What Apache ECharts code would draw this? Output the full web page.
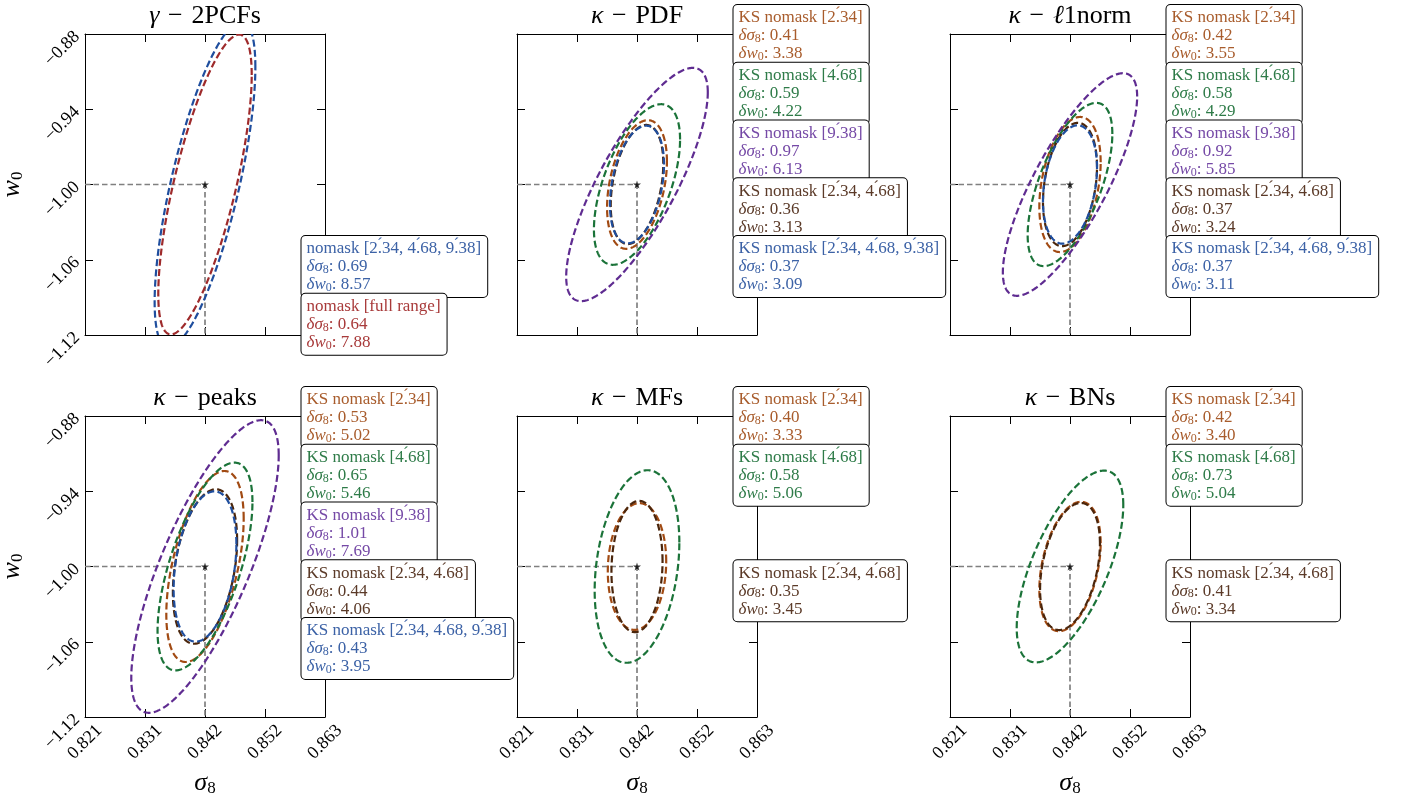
<!doctype html>
<html lang="en">
<head>
<meta charset="utf-8"/>
<title>sigma8 - w0 forecasts</title>
<style>
  html, body { margin: 0; padding: 0; background: #fff; }
  #chart { width: 1402px; height: 800px; }
</style>
</head>
<body>
<div id="chart"></div>
<script src="https://cdn.jsdelivr.net/npm/echarts@6/dist/echarts.min.js"></script>
<script>
// fiducial cosmology and axis ticks
const FID_S8 = 0.842;
const FID_W0 = -1.0;
const xTicks = [0.821, 0.8315, 0.842, 0.8525, 0.863];
const xTickLabels = ['0.821', '0.831', '0.842', '0.852', '0.863'];
const yTicks = [-1.12, -1.06, -1.0, -0.94, -0.88];
const yTickLabels = ['\u22121.12', '\u22121.06', '\u22121.00', '\u22120.94', '\u22120.88'];

// 68% contour of a 2-parameter gaussian: sqrt(delta chi2 = 2.30)
const K68 = 1.517;

const P = '.\u0301'; // arcmin mark sitting over the decimal point
const ksLabels = [
  'KS nomask [2' + P + '34]',
  'KS nomask [4' + P + '68]',
  'KS nomask [9' + P + '38]',
  'KS nomask [2' + P + '34, 4' + P + '68]',
  'KS nomask [2' + P + '34, 4' + P + '68, 9' + P + '38]',
];
const ksLineColors = ['#a14a13', '#1b7339', '#5f2c91', '#4b260c', '#1f4e9e'];
const ksTextColors = ['#a85c2c', '#2e7b48', '#7549a6', '#5b3a28', '#3c62a6'];
const ksSlots = [0, 1, 2, 3, 4];

// gamma - 2PCFs
const pcfLabels = ['nomask [2' + P + '34, 4' + P + '68, 9' + P + '38]', 'nomask [full range]'];
const pcfLineColors = ['#1f4e9e', '#9e2a2b'];
const pcfTextColors = ['#3c62a6', '#a83a3a'];
const pcfSlots = [4, 5];
const pcfDS8 = [0.69, 0.64];   // per cent
const pcfDW0 = [8.57, 7.88];
const pcfRho = [0.72, 0.73];

// kappa panels, order of ksLabels (null = not shown)
const pdfDS8 = [0.41, 0.59, 0.97, 0.36, 0.37];
const pdfDW0 = [3.38, 4.22, 6.13, 3.13, 3.09];
const pdfRho = [0.36, 0.56, 0.79, 0.35, 0.34];

const l1DS8 = [0.42, 0.58, 0.92, 0.37, 0.37];
const l1DW0 = [3.55, 4.29, 5.85, 3.24, 3.11];
const l1Rho = [0.33, 0.62, 0.79, 0.29, 0.28];

const peaksDS8 = [0.53, 0.65, 1.01, 0.44, 0.43];
const peaksDW0 = [5.02, 5.46, 7.69, 4.06, 3.95];
const peaksRho = [0.50, 0.62, 0.76, 0.34, 0.30];

const mfsDS8 = [0.40, 0.58, null, 0.35, null];
const mfsDW0 = [3.33, 5.06, null, 3.45, null];
const mfsRho = [0.08, 0.25, null, 0.08, null];

const bnsDS8 = [0.42, 0.73, null, 0.41, null];
const bnsDW0 = [3.40, 5.04, null, 3.34, null];
const bnsRho = [0.36, 0.64, null, 0.36, null];

const SP = ' \u200a';
const panels = [
  { title: '{i|\u03b3}' + SP + '\u2212' + SP + '2PCFs', labels: pcfLabels, slots: pcfSlots, lineColors: pcfLineColors, textColors: pcfTextColors, ds8: pcfDS8, dw0: pcfDW0, rho: pcfRho },
  { title: '{i|\u03ba}' + SP + '\u2212' + SP + 'PDF', labels: ksLabels, slots: ksSlots, lineColors: ksLineColors, textColors: ksTextColors, ds8: pdfDS8, dw0: pdfDW0, rho: pdfRho },
  { title: '{i|\u03ba}' + SP + '\u2212' + SP + '{i|\u2113}1norm', labels: ksLabels, slots: ksSlots, lineColors: ksLineColors, textColors: ksTextColors, ds8: l1DS8, dw0: l1DW0, rho: l1Rho },
  { title: '{i|\u03ba}' + SP + '\u2212' + SP + 'peaks', labels: ksLabels, slots: ksSlots, lineColors: ksLineColors, textColors: ksTextColors, ds8: peaksDS8, dw0: peaksDW0, rho: peaksRho },
  { title: '{i|\u03ba}' + SP + '\u2212' + SP + 'MFs', labels: ksLabels, slots: ksSlots, lineColors: ksLineColors, textColors: ksTextColors, ds8: mfsDS8, dw0: mfsDW0, rho: mfsRho },
  { title: '{i|\u03ba}' + SP + '\u2212' + SP + 'BNs', labels: ksLabels, slots: ksSlots, lineColors: ksLineColors, textColors: ksTextColors, ds8: bnsDS8, dw0: bnsDW0, rho: bnsRho },
];

// layout
const FONT = '"Liberation Serif", "DejaVu Serif", serif';
const colLefts = [85, 517, 950];
const rowTops = [34, 416];
const PW = 240, PH = 301;
const SLOT_H = 57.75;

const nearest = (arr, v) => {
  let best = 0;
  arr.forEach((a, i) => { if (Math.abs(a - v) < Math.abs(arr[best] - v)) best = i; });
  return best;
};

const grids = [], xAxes = [], yAxes = [], series = [], graphics = [];

const tickStyle = { inside: true, length: 8, lineStyle: { color: '#000', width: 1 } };
const lineStyle = { onZero: false, lineStyle: { color: '#000', width: 1 } };
const nameRich = {
  i: { fontFamily: FONT, fontStyle: 'italic', fontSize: 26, color: '#000', lineHeight: 27 },
  s: { fontFamily: FONT, fontSize: 17, color: '#000', verticalAlign: 'bottom', lineHeight: 12 },
};

panels.forEach((p, gi) => {
  const col = gi % 3, row = Math.floor(gi / 3);
  const left = colLefts[col], top = rowTops[row];
  grids.push({ left, top, width: PW, height: PH, outerBoundsMode: 'none', containLabel: false });

  const bottomRow = row === 1, leftCol = col === 0;
  const xBase = {
    type: 'value', gridIndex: gi, min: xTicks[0], max: xTicks[xTicks.length - 1],
    axisLine: lineStyle, splitLine: { show: false },
    axisTick: Object.assign({ customValues: xTicks }, tickStyle),
  };
  xAxes.push(Object.assign({}, xBase, {
    position: 'bottom',
    axisLabel: {
      show: bottomRow, customValues: xTicks, rotate: 45, align: 'center', verticalAlign: 'middle',
      margin: 25, fontFamily: FONT, fontSize: 18, color: '#000',
      formatter: v => xTickLabels[nearest(xTicks, v)],
    },
    name: bottomRow ? '{i|\u03c3}{s|8}' : '', nameLocation: 'middle', nameGap: 53,
    nameTextStyle: { rich: nameRich },
  }));
  xAxes.push(Object.assign({}, xBase, { position: 'top', axisLabel: { show: false } }));

  const yBase = {
    type: 'value', gridIndex: gi, min: yTicks[0], max: yTicks[yTicks.length - 1],
    axisLine: lineStyle, splitLine: { show: false },
    axisTick: Object.assign({ customValues: yTicks }, tickStyle),
  };
  yAxes.push(Object.assign({}, yBase, {
    position: 'left',
    axisLabel: {
      show: leftCol, customValues: yTicks, rotate: 45, margin: 8,
      fontFamily: FONT, fontSize: 18, color: '#000',
      formatter: v => yTickLabels[nearest(yTicks, v)],
    },
    name: leftCol ? '{i|w}{s|0}' : '', nameLocation: 'middle', nameGap: 59, nameRotate: 90,
    nameTextStyle: { rich: nameRich },
  }));
  yAxes.push(Object.assign({}, yBase, { position: 'right', axisLabel: { show: false } }));

  const xi = gi * 2, yi = gi * 2;

  // fiducial cross-hair
  series.push({
    type: 'line', xAxisIndex: xi, yAxisIndex: yi, silent: true, symbol: 'none', z: 1,
    lineStyle: { color: '#808080', width: 1.7, type: [5.5, 3] },
    data: [[xTicks[0], FID_W0], [FID_S8, FID_W0], [FID_S8, yTicks[0]]],
  });

  // contours
  p.labels.forEach((lab, k) => {
    if (p.ds8[k] == null) return;
    const ax = K68 * p.ds8[k] / 100 * FID_S8;
    const ay = K68 * p.dw0[k] / 100 * Math.abs(FID_W0);
    const rho = p.rho[k];
    const q = Math.sqrt(1 - rho * rho);
    const color = p.lineColors[k];
    series.push({
      type: 'custom', xAxisIndex: xi, yAxisIndex: yi, clip: true, silent: true, z: 2 + k,
      data: [[FID_S8, FID_W0]],
      renderItem: (params, api) => {
        const cx = api.value(0), cy = api.value(1);
        const pts = [];
        for (let j = 0; j < 360; j++) {
          const t = 2 * Math.PI * j / 360;
          pts.push(api.coord([cx + ax * Math.cos(t), cy + ay * (rho * Math.cos(t) + q * Math.sin(t))]));
        }
        return {
          type: 'polygon', shape: { points: pts },
          style: { fill: 'none', stroke: color, lineWidth: 2.2, lineDash: [7, 3.3] },
        };
      },
    });

    // legend box
    const tc = p.textColors[k];
    const rich = {
      a: { fontFamily: FONT, fontSize: 17, fill: tc, lineHeight: 18 },
      m: { fontFamily: FONT, fontSize: 17, fontStyle: 'italic', fill: tc, lineHeight: 18 },
      s: { fontFamily: FONT, fontSize: 12, fill: tc, verticalAlign: 'bottom', lineHeight: 11 },
    };
    const txt = '{a|' + lab + '}\n' +
      '{m|\u03b4\u03c3}{s|8}{a|: ' + p.ds8[k].toFixed(2) + '}\n' +
      '{m|\u03b4w}{s|0}{a|: ' + p.dw0[k].toFixed(2) + '}';
    graphics.push({
      type: 'text', x: left + PW - 23.5, y: top - 29 + p.slots[k] * SLOT_H, z: 100 + p.slots[k],
      style: {
        text: txt, rich, fill: tc, align: 'left', verticalAlign: 'top',
        backgroundColor: '#fff', borderColor: '#000', borderWidth: 1, borderRadius: 4,
        padding: [4, 6, 3, 5],
      },
    });
  });

  // fiducial star
  series.push({
    type: 'scatter', xAxisIndex: xi, yAxisIndex: yi, silent: true, z: 20,
    symbol: 'path://M50,0 L61,35 L98,35 L68,57 L79,91 L50,70 L21,91 L32,57 L2,35 L39,35 Z',
    symbolSize: 8, itemStyle: { color: '#000' },
    data: [[FID_S8, FID_W0]],
  });

  // panel title
  graphics.push({
    type: 'text', x: left + PW / 2, y: top - 18, z: 90,
    style: {
      text: p.title, align: 'center', verticalAlign: 'middle', fill: '#000',
      font: '26px ' + FONT,
      rich: { i: { fontFamily: FONT, fontSize: 26, fontStyle: 'italic', fill: '#000' } },
    },
  });
});

const chart = echarts.init(document.getElementById('chart'), null, { renderer: 'canvas' });
chart.setOption({
  animation: false,
  backgroundColor: '#fff',
  grid: grids,
  xAxis: xAxes,
  yAxis: yAxes,
  series,
  graphic: { elements: graphics },
});
</script>
</body>
</html>
